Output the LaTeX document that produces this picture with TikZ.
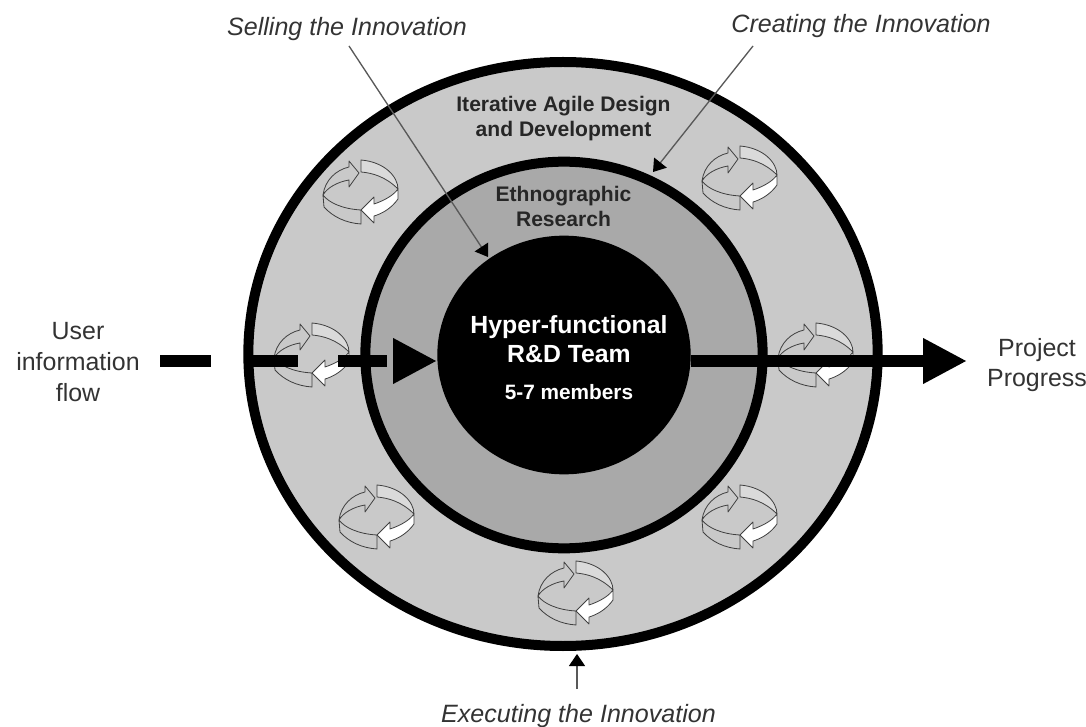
\documentclass[tikz,border=0pt]{standalone}
\usepackage{fontspec}
\setmainfont{Liberation Sans}
\usetikzlibrary{arrows.meta,positioning,shapes.geometric}

\definecolor{ringouter}{HTML}{C9C9C9}
\definecolor{ringmiddle}{HTML}{A9A9A9}
\definecolor{bandlight}{HTML}{DADADA}

\tikzset{
	ring/.style={ellipse,draw=black,line width=7.5pt,inner sep=0pt},
	flow/.style={line width=9pt,draw=black},
	bighead/.style={-{Triangle[length=33pt,width=32pt]}},
	leader/.style={draw=black!65,line width=1pt,-{Triangle[length=9pt,width=12pt,color=black]}},
	side/.style={font=\fontsize{18.7}{23}\selectfont,align=center,text=black!80},
	phase/.style={font=\fontsize{18.8}{23}\selectfont\itshape,text=black!80},
	ringtext/.style={font=\fontsize{15.8}{18.75}\selectfont\bfseries,align=center,text=black!85},
	band/.style={draw=black!75,line width=0.6pt,line join=round},
	cycle/.pic={
		% back band, upper right
		\path[band,fill=bandlight] (0,-32) .. controls (24,-30) and (37,-15) .. (37,-3) .. controls (25,-15) and (12,-19) .. (0,-20) -- cycle;
		% front band, lower left
		\path[band,fill=ringouter] (-38,3) -- (-37,15) .. controls (-28,25) and (-15,31) .. (0,32) -- (0,18) .. controls (-18,17) and (-32,11) .. (-38,3) -- cycle;
		% arrow going right
		\path[band,fill=ringouter] (-38,3) .. controls (-36,-12) and (-25,-22) .. (-12,-25) -- (-12,-31) -- (-2,-19) -- (-12,-5) -- (-12,-12) .. controls (-24,-10) and (-34,-4) .. (-38,3) -- cycle;
		% arrow going left, white
		\path[band,fill=white] (37,-3) -- (37,7) .. controls (30,17) and (20,22) .. (13,24) -- (13,31) -- (0,18) -- (13,5) -- (13,12) .. controls (22,9) and (32,4) .. (37,-3) -- cycle;
	}
}

\begin{document}
\begin{tikzpicture}[x=0.75pt,y=-0.75pt,node distance=10pt,on grid]
	\useasboundingbox (0,0) rectangle (1086,727);
	\node[ring,fill=ringouter,minimum width=472pt,minimum height=438pt] (design) at (563,354) {};
	\node[ring,fill=ringmiddle,minimum width=298pt,minimum height=290pt] (research) at (564,355) {};
	\node[ellipse,fill=black,inner sep=0pt,minimum width=190pt,minimum height=179pt] (team) at (564,355) {};

	\pic at (361,192) {cycle};
	\pic at (740,178) {cycle};
	\pic at (312,355) {cycle};
	\pic at (816,355) {cycle};
	\pic at (377,517) {cycle};
	\pic at (740,517) {cycle};
	\pic at (576,593) {cycle};

	\node[ringtext] (design_text) at (563.5,119) {Iterative Agile Design\\and Development};
	\node[ringtext] (research_text) at (563.5,206) {Ethnographic\\Research};
	\node[font=\fontsize{18.6}{21.75}\selectfont\bfseries,align=center,text=white] (team_text) at (569,339) {Hyper-functional\\R\&D Team};
	\node[font=\fontsize{15.6}{18}\selectfont\bfseries,text=white] (size_text) [below=40pt of team_text] {5-7 members};

	\node[side] (user) at (78,362) {User\\information\\flow};
	\node[side] (progress) at (1037,365) {Project\\Progress};
	\node[phase] (selling) at (347,29) {Selling the Innovation};
	\node[phase] (creating) at (861,26) {Creating the Innovation};
	\node[phase] (executing) at (578.5,716) {Executing the Innovation};

	\coordinate (flow_a) at (160,361);
	\coordinate (flow_b) at (211,361);
	\coordinate (flow_c) at (244,361);
	\coordinate (flow_d) at (298,361);
	\coordinate (flow_e) at (338,361);
	\coordinate (flow_f) at (387,361);
	\coordinate (flow_g) at (393,361);
	\coordinate (flow_h) at (437,361);
	\coordinate (flow_i) at (967,361);
	\draw[flow] (flow_a) -- (flow_b);
	\draw[flow] (flow_c) -- (flow_d);
	\draw[flow] (flow_e) -- (flow_f);
	\draw[flow,bighead] (flow_g) -- (flow_h);
	\draw[flow,bighead] (team.east |- flow_i) -- (flow_i);

	\coordinate (selling_end) at (349,46);
	\coordinate (selling_tip) at (488,257);
	\coordinate (creating_end) at (753,46);
	\coordinate (creating_tip) at (653,172);
	\coordinate (executing_end) at (577,689);
	\coordinate (executing_tip) at (577,654);
	\draw[leader] (selling_end) -- (selling_tip);
	\draw[leader] (creating_end) -- (creating_tip);
	\draw[leader] (executing_end) -- (executing_tip);
\end{tikzpicture}
\end{document}
